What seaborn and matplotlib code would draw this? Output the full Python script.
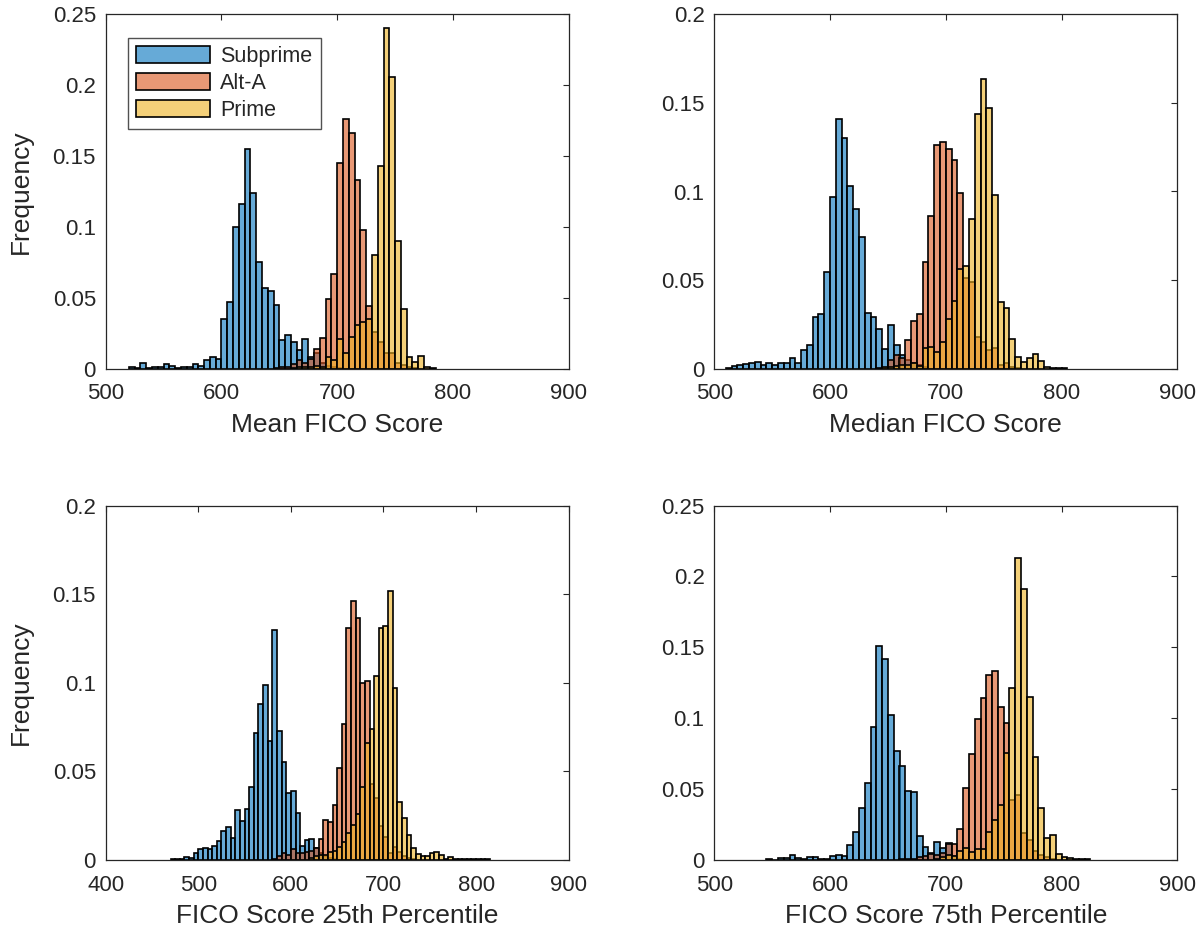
import numpy as np
import pandas as pd
import matplotlib
matplotlib.use("Agg")
import matplotlib.pyplot as plt
from matplotlib.patches import Patch
from matplotlib.ticker import FuncFormatter, MultipleLocator
import seaborn as sns

# ---------------- data (bin width 5, values = relative frequency) ----------------
series_names = ["Subprime", "Alt-A", "Prime"]

# Panel 1: Mean FICO Score
mean_sub_start = 520
mean_sub = [0.001, 0.0005, 0.004, 0.0005, 0.0015, 0.001, 0.003, 0.0017, 0.0008, 0.0012,
            0.0012, 0.003, 0.0017, 0.006, 0.008, 0.007, 0.035, 0.047, 0.100, 0.116,
            0.155, 0.124, 0.075, 0.057, 0.055, 0.045, 0.020, 0.024, 0.019, 0.013,
            0.021, 0.0085, 0.011, 0.004, 0.002, 0.001, 0.0005]
mean_alt_start = 645
mean_alt = [0.0005, 0.001, 0.001, 0.003, 0.006, 0.004, 0.007, 0.014, 0.022, 0.049,
            0.067, 0.145, 0.176, 0.166, 0.133, 0.098, 0.044, 0.026, 0.019, 0.011,
            0.011, 0.004, 0.0025, 0.001, 0.0005]
mean_prime_start = 660
mean_prime = [0.0005, 0.001, 0.001, 0.0015, 0.002, 0.0015, 0.008, 0.006, 0.021, 0.011,
              0.0225, 0.031, 0.033, 0.035, 0.080, 0.143, 0.240, 0.206, 0.090, 0.042,
              0.0085, 0.005, 0.009, 0.0015, 0.0005]

# Panel 2: Median FICO Score
med_sub_start = 510
med_sub = [0.0005, 0.0015, 0.002, 0.0025, 0.0034, 0.004, 0.002, 0.003, 0.002, 0.0034,
           0.003, 0.006, 0.0034, 0.0105, 0.0135, 0.029, 0.031, 0.0545, 0.097, 0.141,
           0.130, 0.103, 0.090, 0.0746, 0.0316, 0.029, 0.0226, 0.011, 0.0246, 0.0135,
           0.008, 0.005, 0.003, 0.002, 0.001]
med_alt_start = 645
med_alt = [0.0005, 0.005, 0.008, 0.006, 0.016, 0.027, 0.031, 0.060, 0.086, 0.126,
           0.128, 0.124, 0.118, 0.099, 0.051, 0.049, 0.018, 0.015, 0.0105, 0.0115,
           0.002, 0.0034, 0.001, 0.0005]
med_prime_start = 640
med_prime = [0.0005, 0.001, 0.001, 0.0015, 0.002, 0.002, 0.003, 0.0015, 0.0118, 0.0124,
             0.0096, 0.0148, 0.028, 0.038, 0.056, 0.058, 0.0846, 0.144, 0.1635, 0.147,
             0.098, 0.0376, 0.034, 0.017, 0.0068, 0.004, 0.0058, 0.0085, 0.0043, 0.001,
             0.0006, 0.0004, 0.0003]

# Panel 3: FICO Score 25th Percentile
p25_sub_start = 470
p25_sub = [0.0004, 0.0008, 0.0004, 0.0017, 0.0013, 0.0038, 0.0062, 0.007, 0.0062, 0.008,
           0.011, 0.0165, 0.0188, 0.0126, 0.028, 0.022, 0.0286, 0.0414, 0.0718, 0.088,
           0.099, 0.067, 0.1297, 0.073, 0.0553, 0.038, 0.039, 0.0267, 0.008, 0.0113,
           0.0117, 0.0066, 0.004, 0.002, 0.001, 0.0005]
p25_alt_start = 580
p25_alt = [0.0005, 0.002, 0.004, 0.003, 0.006, 0.004, 0.0038, 0.0047, 0.005, 0.007,
           0.0117, 0.0226, 0.0216, 0.0312, 0.0519, 0.077, 0.131, 0.146, 0.1365, 0.100,
           0.1008, 0.043, 0.035, 0.019, 0.013, 0.004, 0.0075, 0.0047, 0.002, 0.001,
           0.0005]
p25_prime_start = 620
p25_prime = [0.001, 0.002, 0.003, 0.003, 0.0047, 0.0053, 0.0075, 0.010, 0.015, 0.020,
             0.026, 0.041, 0.066, 0.074, 0.104, 0.131, 0.132, 0.152, 0.097, 0.033,
             0.0235, 0.014, 0.007, 0.0032, 0.0023, 0.0023, 0.004, 0.0043, 0.0026, 0.0008,
             0.0015, 0.0008, 0.0008, 0.0005, 0.0008, 0.0005, 0.0005, 0.0005, 0.0005]

# Panel 4: FICO Score 75th Percentile
p75_sub_start = 545
p75_sub = [0.001, 0.0002, 0.0017, 0.0014, 0.0035, 0.0014, 0.0005, 0.002, 0.002, 0.0007,
           0.0007, 0.003, 0.0035, 0.0026, 0.0106, 0.0195, 0.037, 0.054, 0.094, 0.151,
           0.142, 0.102, 0.077, 0.066, 0.049, 0.048, 0.017, 0.0094, 0.0047, 0.013,
           0.0087, 0.012, 0.003, 0.001]
p75_alt_start = 660
p75_alt = [0.0005, 0.001, 0.001, 0.002, 0.003, 0.004, 0.0035, 0.0047, 0.011, 0.011,
           0.022, 0.051, 0.075, 0.0996, 0.114, 0.1307, 0.1335, 0.108, 0.0965, 0.042,
           0.046, 0.019, 0.014, 0.0064, 0.0035, 0.002, 0.001]
p75_prime_start = 690
p75_prime = [0.001, 0.0024, 0.0035, 0.003, 0.006, 0.0087, 0.0054, 0.008, 0.0075, 0.0195,
             0.028, 0.039, 0.0753, 0.121, 0.2133, 0.191, 0.115, 0.0725, 0.0367, 0.0153,
             0.0176, 0.004, 0.002, 0.0015, 0.001, 0.0007, 0.0005]

xlabels = ["Mean FICO Score", "Median FICO Score",
           "FICO Score 25th Percentile", "FICO Score 75th Percentile"]
xlims = [(500, 900), (500, 900), (400, 900), (500, 900)]
ylims = [(0, 0.25), (0, 0.2), (0, 0.2), (0, 0.25)]

BIN = 5
face_colors = [(0.0, 0.447, 0.741), (0.85, 0.325, 0.098), (0.929, 0.694, 0.125)]
FACE_ALPHA = 0.6
AX_GRAY = (0.15, 0.15, 0.15)
EDGE_LW = 1.2

# ---------------- style ----------------
sns.set_style("white")
plt.rcParams["font.family"] = ["Liberation Sans", "DejaVu Sans"]

fig = plt.figure(figsize=(12, 9.3), dpi=100)
W, H = 1200.0, 930.0
ax_w, ax_h = 463.0, 354.4
positions = [(105.7, 14.3), (714.3, 14.3), (105.7, 505.6), (714.3, 505.6)]

panels = [
    [(mean_sub_start, mean_sub), (mean_alt_start, mean_alt), (mean_prime_start, mean_prime)],
    [(med_sub_start, med_sub), (med_alt_start, med_alt), (med_prime_start, med_prime)],
    [(p25_sub_start, p25_sub), (p25_alt_start, p25_alt), (p25_prime_start, p25_prime)],
    [(p75_sub_start, p75_sub), (p75_alt_start, p75_alt), (p75_prime_start, p75_prime)],
]


def fmt(v, pos):
    return "%g" % round(v, 4)


for i, (panel, (px, py)) in enumerate(zip(panels, positions)):
    ax = fig.add_axes([px / W, 1 - (py + ax_h) / H, ax_w / W, ax_h / H])
    for (start, vals), name, col in zip(panel, series_names, face_colors):
        vals = np.asarray(vals, dtype=float)
        n = len(vals)
        centers = start + BIN * np.arange(n) + BIN / 2.0
        df = pd.DataFrame({"score": centers, "freq": vals})
        n_before = len(ax.patches)
        sns.histplot(data=df, x="score", weights="freq", binwidth=BIN,
                     binrange=(start, start + BIN * n), stat="count",
                     ax=ax, color=col, edgecolor="black", linewidth=EDGE_LW)
        for p in ax.patches[n_before:]:
            p.set_alpha(None)
            p.set_facecolor((*col, FACE_ALPHA))
            p.set_edgecolor("black")
            p.set_linewidth(EDGE_LW)
    ax.set_xlim(*xlims[i])
    ax.set_ylim(*ylims[i])
    ax.xaxis.set_major_locator(MultipleLocator(100))
    ax.yaxis.set_major_locator(MultipleLocator(0.05))
    ax.yaxis.set_major_formatter(FuncFormatter(fmt))
    ax.xaxis.set_major_formatter(FuncFormatter(fmt))
    ax.tick_params(direction="in", length=4, width=0.8, colors=AX_GRAY,
                   labelsize=16, top=True, right=True)
    ax.tick_params(axis="x", pad=10.5)
    ax.tick_params(axis="y", pad=7)
    for s in ax.spines.values():
        s.set_visible(True)
        s.set_color(AX_GRAY)
        s.set_linewidth(0.9)
    ax.set_xlabel(xlabels[i], fontsize=19, color=AX_GRAY, labelpad=6)
    if i % 2 == 0:
        ax.set_ylabel("Frequency", fontsize=19, color=AX_GRAY, labelpad=14)
    else:
        ax.set_ylabel("")
    if i == 0:
        handles = [Patch(facecolor=(*c, FACE_ALPHA), edgecolor="black", linewidth=EDGE_LW, label=n)
                   for n, c in zip(series_names, face_colors)]
        leg = ax.legend(handles=handles, loc="upper left",
                        bbox_to_anchor=((128.3 - 105.7) / ax_w, (368.7 - 37.7) / ax_h),
                        borderaxespad=0, fontsize=15.5, frameon=True, fancybox=False,
                        handlelength=3.4, handleheight=0.85, labelspacing=0.28,
                        handletextpad=0.5, borderpad=0.38)
        leg.get_frame().set_edgecolor(AX_GRAY)
        leg.get_frame().set_linewidth(1.0)

fig.savefig("out.png", dpi=100)
